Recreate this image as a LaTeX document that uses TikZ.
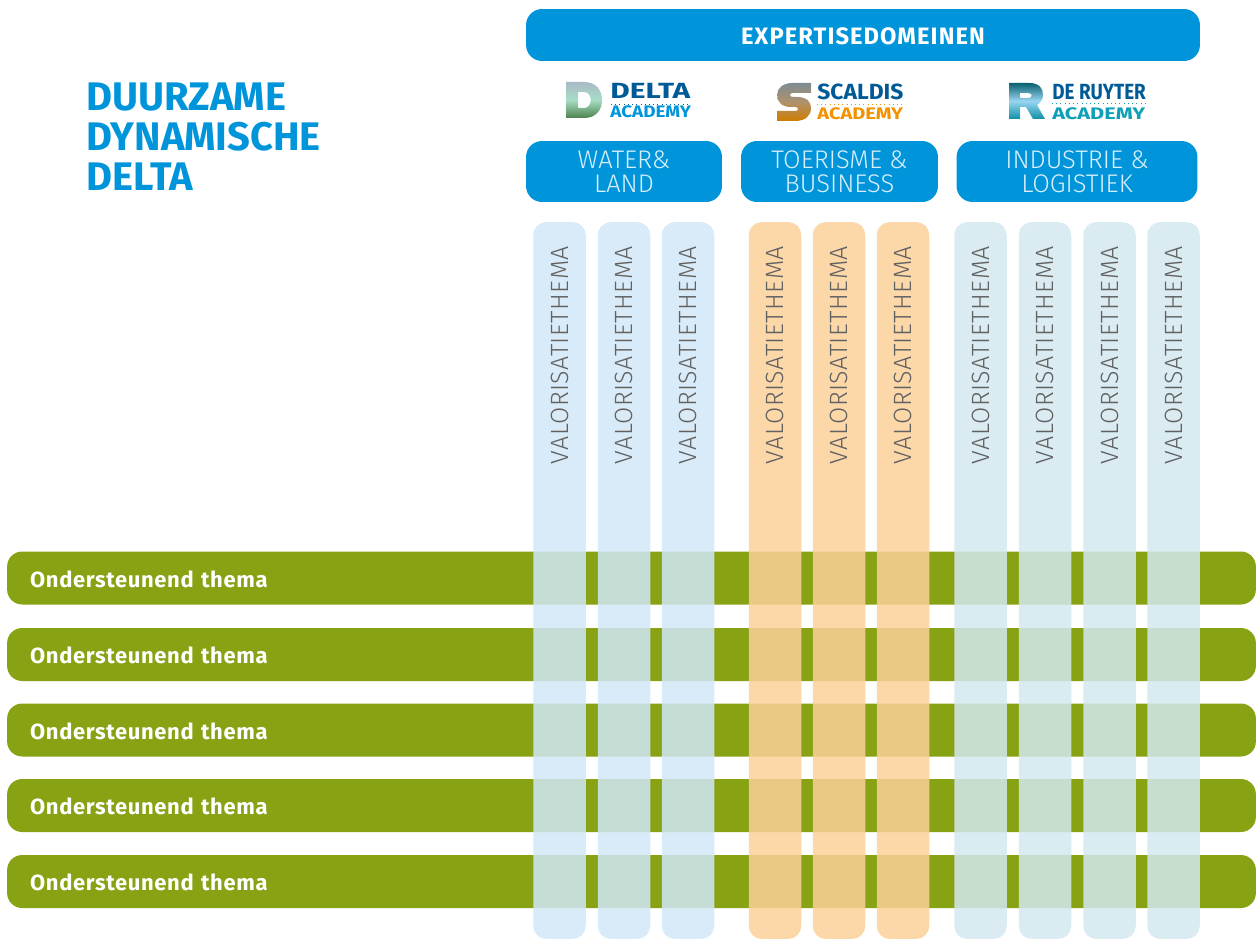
\documentclass[tikz,border=0pt]{standalone}
\usepackage{fontspec}
\setmainfont{Fira Sans}
\newfontfamily\thinfont{Fira Sans Light}
\usepackage{tikz}

\definecolor{domainblue}{HTML}{0095DB}
\definecolor{themegreen}{HTML}{87A213}
\definecolor{colblue}{HTML}{D2E8F7}
\definecolor{colorange}{HTML}{FCD099}
\definecolor{colteal}{HTML}{D3E8EE}
\definecolor{logonavy}{HTML}{005A96}
\definecolor{logoorange}{HTML}{F39200}
\definecolor{logoteal}{HTML}{0FA0B8}

\tikzset{
  domainbox/.style={fill=domainblue,rounded corners=0.32cm,text=white,align=center,inner sep=0pt},
  subbox/.style={domainbox,minimum height=1.22cm,text=white!85!domainblue,font=\thinfont\fontsize{14.5}{13.6}\selectfont},
  valcol/.style={rotate=90,rounded corners=0.26cm,minimum width=14.34cm,minimum height=1.05cm,
    inner xsep=0.48cm,inner ysep=0pt,text width=13.38cm,align=right,fill opacity=0.85,text opacity=1,
    text=black!62,font=\thinfont\fontsize{14.2}{14}\selectfont\addfontfeature{LetterSpace=2}},
  themebar/.style={fill=themegreen,rounded corners=0.3cm,minimum width=24.98cm,minimum height=1.06cm,
    inner xsep=0.46cm,inner ysep=0pt,text width=24.06cm,align=left,text=white,text height=10.6pt,
    font=\bfseries\fontsize{12.5}{14}\selectfont\addfontfeature{LetterSpace=3}},
  logotop/.style={anchor=base west,inner sep=0pt,font=\bfseries\fontsize{12.5}{14}\selectfont\addfontfeature{FakeStretch=#1}},
  logobot/.style={anchor=base west,inner sep=0pt,font=\bfseries\fontsize{9.5}{12}\selectfont\addfontfeature{FakeStretch=#1}},
}

\begin{document}
\begin{tikzpicture}[x=0.02cm,y=-0.02cm]
  \useasboundingbox (0,0) rectangle (1256,939);

  \node (title) [anchor=north west,inner sep=0pt,align=left,text=domainblue,
    font=\bfseries\fontsize{22.7}{22.6}\selectfont] at (86,83) {DUURZAME\\DYNAMISCHE\\DELTA};

  % domains
  \node (domains) [domainbox,minimum width=13.48cm,minimum height=1.04cm,text height=10.6pt,
    font=\bfseries\fontsize{13.5}{14}\selectfont\addfontfeature{LetterSpace=4.5}] at (863,35) {EXPERTISEDOMEINEN};
  \node (water) [subbox,minimum width=3.92cm] at (624,171.5) {WATER\&\\LAND};
  \node (toerisme) [subbox,minimum width=3.94cm] at (839.5,171.5) {TOERISME \&\\BUSINESS};
  \node (industrie) [subbox,minimum width=4.82cm] at (1077,171.5) {INDUSTRIE \&\\LOGISTIEK};

  % logos
  \shade [even odd rule,top color=colblue!80!black,bottom color=green!30!black!70!white,middle color=black!30!green!20!colblue]
    (566,82) -- (584,82) .. controls (596,82) and (602,90) .. (602,100) .. controls (602,110) and (596,118) .. (584,118)
    -- (566,118) -- cycle
    (578,92) -- (584,92) .. controls (593,92) and (593,108) .. (584,108) -- (578,108) -- cycle;
  \node (deltaname) [logotop=1.36,text=logonavy] at (610,99) {DELTA};
  \node (deltaacad) [logobot=1.13,text=domainblue] at (610,118) {ACADEMY};
  \draw [logonavy,dotted] (611,104) -- (690,104);

  \begin{scope}[shift={(777,83)}]
    \shade [top color=black!40!colblue,bottom color=logoorange!85!black,middle color=colorange!70!black]
      (34,0) -- (34,10) -- (16,10) .. controls (12,10) and (12,14) .. (16,14) -- (20,14)
      .. controls (30,14) and (34,19) .. (34,25) .. controls (34,33) and (28,38) .. (18,38)
      -- (0,38) -- (0,28) -- (18,28) .. controls (22,28) and (22,24) .. (18,24) -- (14,24)
      .. controls (5,24) and (0,19) .. (0,12) .. controls (0,5) and (6,0) .. (16,0) -- cycle;
  \end{scope}
  \node (scaldisname) [logotop=1.04,text=logonavy] at (817,99.5) {SCALDIS};
  \node (scaldisacad) [logobot=1.2,text=logoorange] at (817,119.5) {ACADEMY};
  \draw [logoorange,dotted] (817,104) -- (903,104);

  \begin{scope}[shift={(1009,83)}]
    \shade [even odd rule,top color=logoteal!60!black,bottom color=logoteal!90!black,middle color=domainblue!40!white]
      (0,0) -- (20,0) .. controls (30,0) and (34,5) .. (34,12) .. controls (34,17) and (31,20) .. (28,22)
      -- (36,36) -- (24,36) -- (17,24) -- (11,24) -- (11,36) -- (0,36) -- cycle
      (11,10) -- (19,10) .. controls (24,10) and (24,15) .. (19,15) -- (11,15) -- cycle;
  \end{scope}
  \node (ruytername) [logotop=0.86,text=logonavy] at (1052,99.5) {DE RUYTER};
  \node (ruyteracad) [logobot=1.3,text=logoteal] at (1052,119.5) {ACADEMY};
  \draw [logoteal,dotted] (1052,103) -- (1146,103);

  % support themes
  \node (bar1) [themebar] at (631.5,578) {Ondersteunend thema};
  \node (bar2) [themebar] at (631.5,654.5) {Ondersteunend thema};
  \node (bar3) [themebar] at (631.5,730) {Ondersteunend thema};
  \node (bar4) [themebar] at (631.5,805.5) {Ondersteunend thema};
  \node (bar5) [themebar] at (631.5,881.5) {Ondersteunend thema};

  % valorisation columns
  \node (col1) [valcol,fill=colblue] at (559.5,580.5) {VALORISATIETHEMA};
  \node (col2) [valcol,fill=colblue] at (624,580.5) {VALORISATIETHEMA};
  \node (col3) [valcol,fill=colblue] at (688,580.5) {VALORISATIETHEMA};
  \node (col4) [valcol,fill=colorange] at (775,580.5) {VALORISATIETHEMA};
  \node (col5) [valcol,fill=colorange] at (839,580.5) {VALORISATIETHEMA};
  \node (col6) [valcol,fill=colorange] at (903,580.5) {VALORISATIETHEMA};
  \node (col7) [valcol,fill=colteal] at (980.5,580.5) {VALORISATIETHEMA};
  \node (col8) [valcol,fill=colteal] at (1045,580.5) {VALORISATIETHEMA};
  \node (col9) [valcol,fill=colteal] at (1109.5,580.5) {VALORISATIETHEMA};
  \node (col10) [valcol,fill=colteal] at (1173.5,580.5) {VALORISATIETHEMA};
\end{tikzpicture}
\end{document}
